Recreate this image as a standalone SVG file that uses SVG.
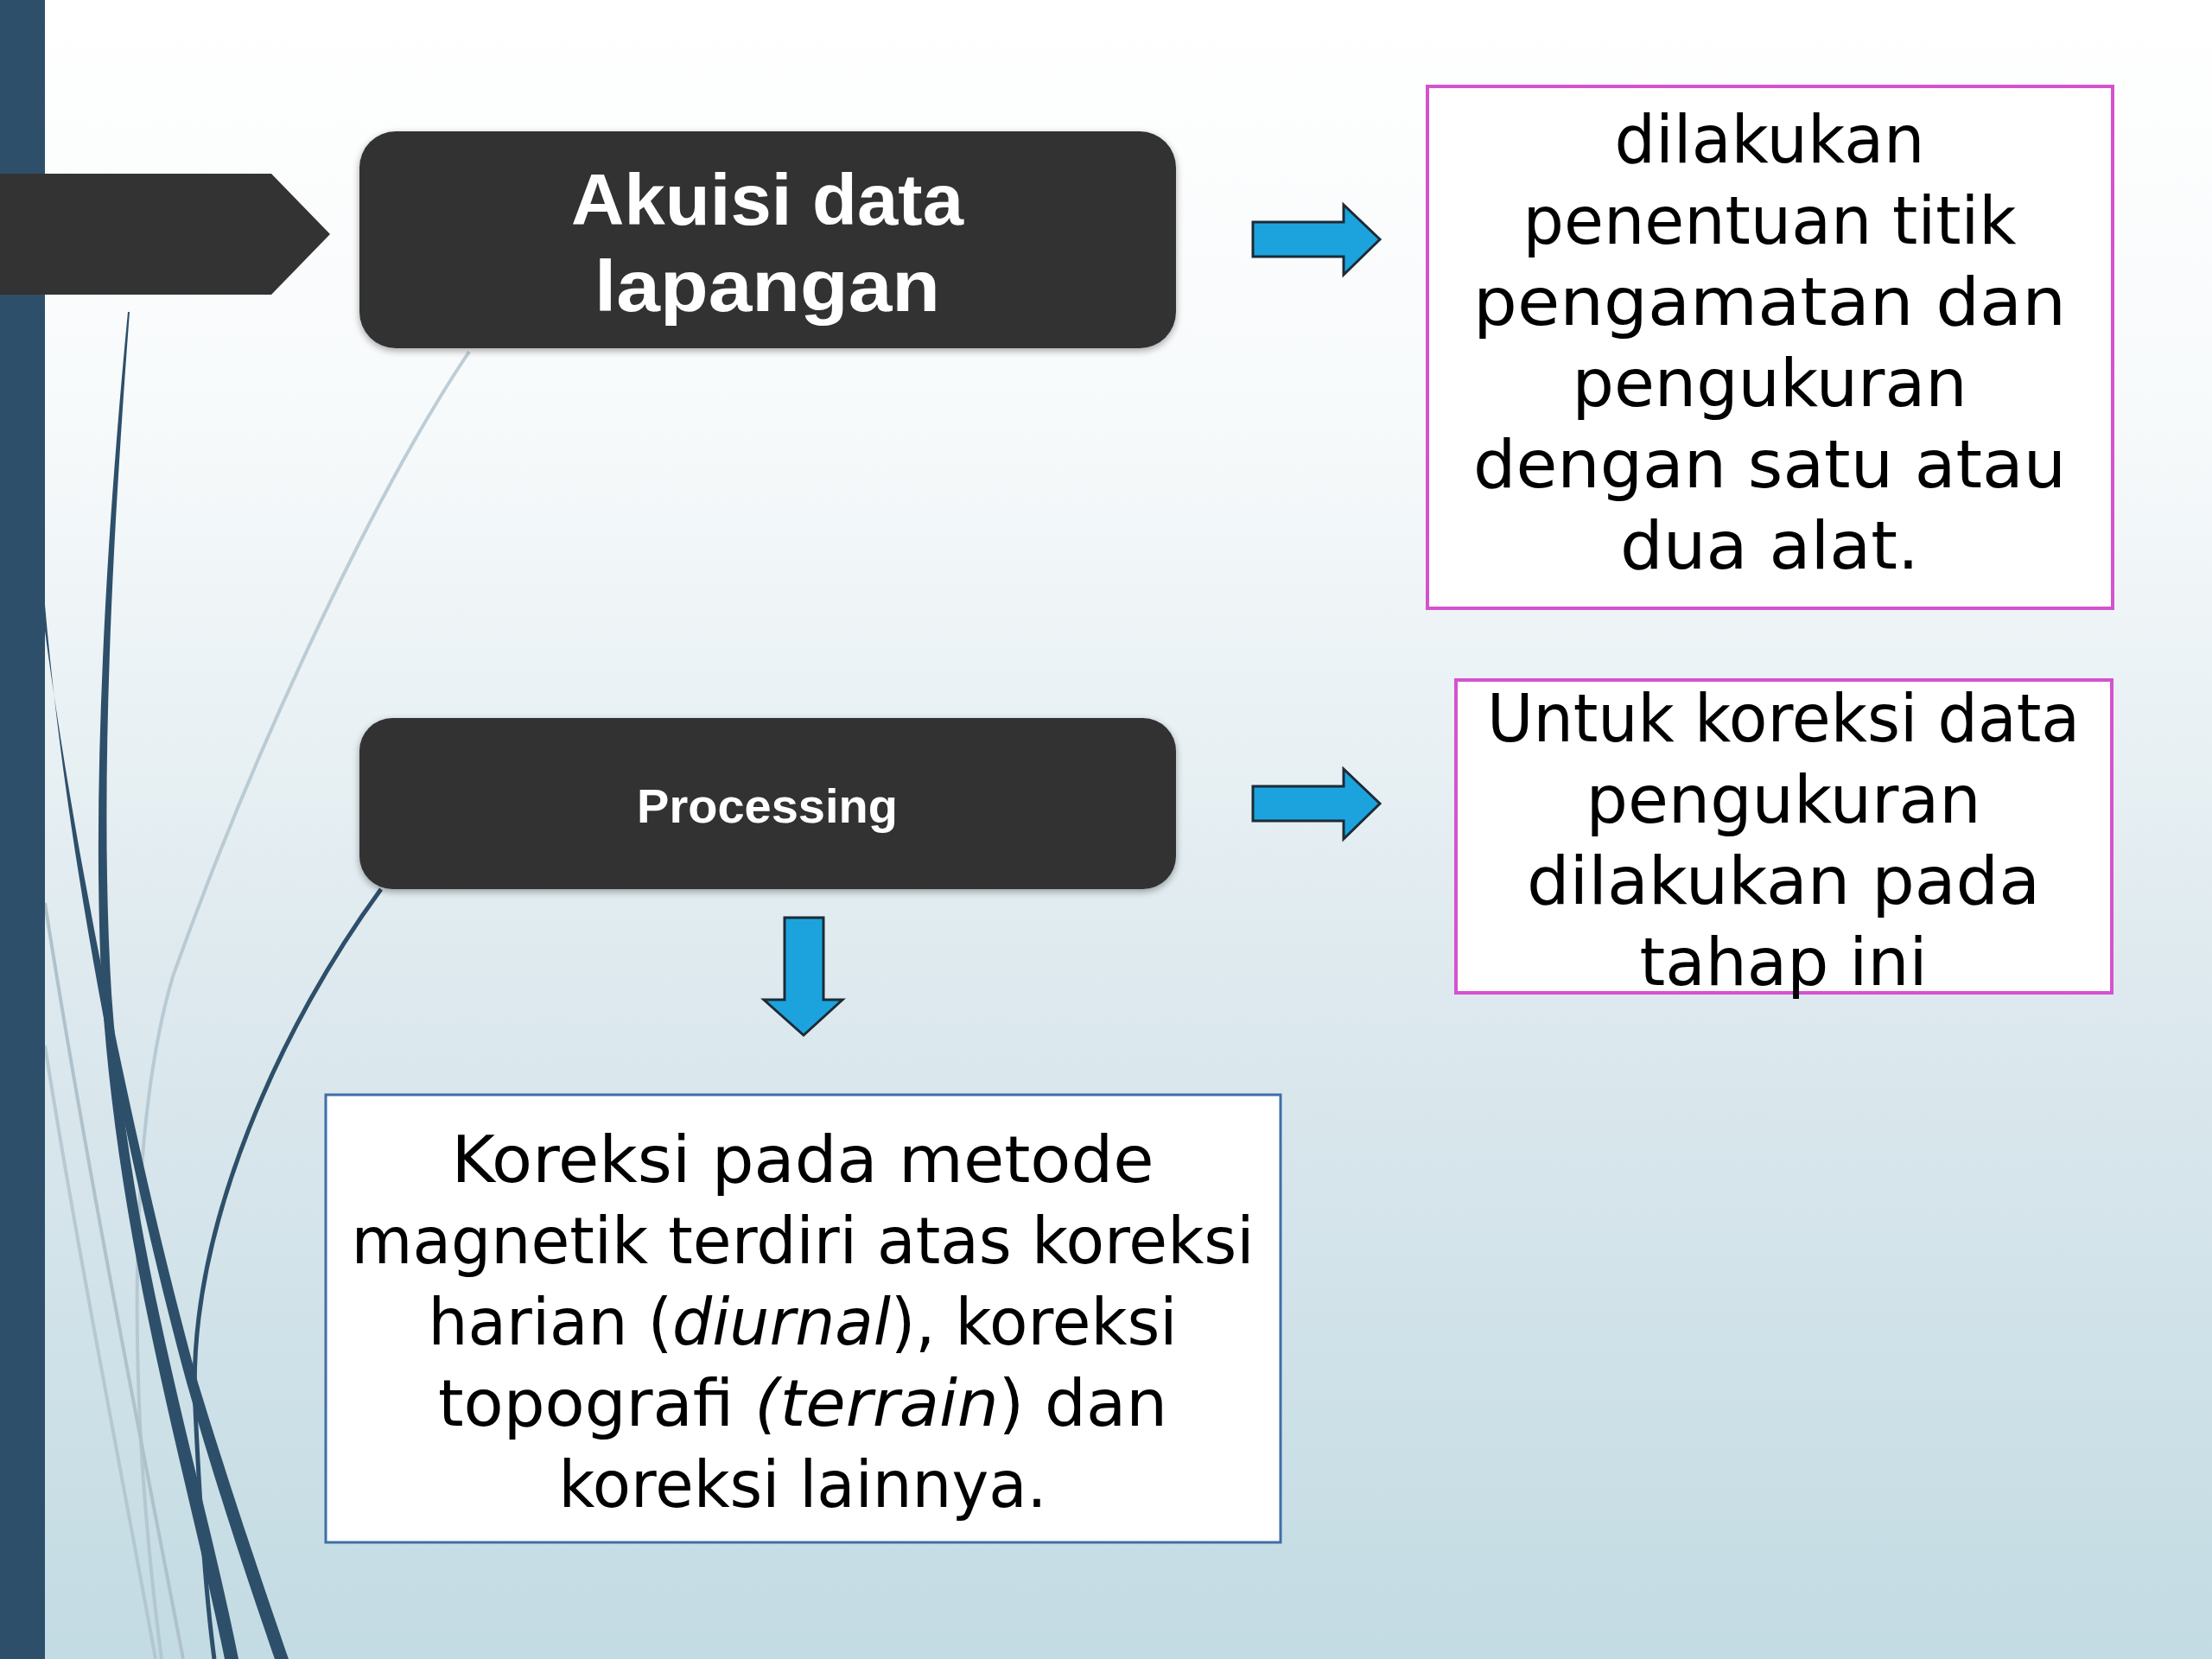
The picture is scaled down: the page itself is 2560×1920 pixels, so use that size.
<svg xmlns="http://www.w3.org/2000/svg" width="2560" height="1920" viewBox="0 0 2560 1920">
  <defs>
    <linearGradient id="bg" x1="0" y1="0" x2="0" y2="1">
      <stop offset="0" stop-color="#FFFFFF"/>
      <stop offset="0.25" stop-color="#F7FAFB"/>
      <stop offset="0.6" stop-color="#DDE9EE"/>
      <stop offset="1" stop-color="#C3DBE3"/>
    </linearGradient>
    <filter id="sh" x="-5%" y="-10%" width="110%" height="125%">
      <feGaussianBlur in="SourceAlpha" stdDeviation="4"/>
      <feOffset dx="0" dy="3" result="b"/>
      <feComponentTransfer><feFuncA type="linear" slope="0.35"/></feComponentTransfer>
      <feMerge><feMergeNode/><feMergeNode in="SourceGraphic"/></feMerge>
    </filter>
  </defs>
  <style>
    .dark { fill: #333333; }
    .title { font-family: "Liberation Sans", Arial, sans-serif; font-weight: bold; fill: #FFFFFF; text-anchor: middle; }
    .body { font-family: "DejaVu Sans", "Liberation Sans", sans-serif; font-size: 76px; fill: #000000; text-anchor: middle; }
    .small { font-size: 74px; }
    .pink { fill: #FFFFFF; stroke: #D552CF; stroke-width: 4; }
    .blue { fill: #FFFFFF; stroke: #3F6EA8; stroke-width: 3; }
    .arrow { fill: #1CA3DE; stroke: #1C2B36; stroke-width: 3; stroke-linejoin: miter; }
    .gray { fill: none; stroke: #AFC2CC; stroke-width: 4; }
    .navy { fill: #2D4F6A; }
  </style>

  <!-- background -->
  <rect x="0" y="0" width="2560" height="1920" fill="url(#bg)"/>

  <!-- decorative curves -->
  <g id="decor">
    <path class="gray" d="M543,407 C440,560 300,850 200,1130 C150,1300 145,1600 187,1920" stroke-width="2.5" opacity="0.8"/>
    <path class="gray" d="M52,1045 C100,1350 160,1650 212,1920"/>
    <path class="gray" d="M52,1210 C90,1450 140,1700 180,1920" opacity="0.8"/>
    <path class="navy" d="M148,361 C125,600 105,900 118,1150 C138,1450 215,1700 260,1920 L276,1920 C232,1700 150,1450 129,1150 C114,900 132,600 150,361 Z"/>
    <path class="navy" d="M52,700 C78,1000 148,1350 216,1600 C256,1740 294,1850 318,1920 L334,1920 C310,1850 272,1740 229,1600 C160,1350 88,1000 52,730 Z"/>
    <path d="M441,1029 C330,1180 215,1420 226,1630 C232,1760 240,1860 248,1920" fill="none" stroke="#2D4F6A" stroke-width="5"/>
    <rect class="navy" x="0" y="0" width="52" height="1920"/>
  </g>

  <!-- pentagon pointer -->
  <g id="pointer">
    <path class="dark" d="M0,201 H314 L382,271 L314,341 H0 Z"/>
  </g>

  <!-- nodes -->
  <g id="node-akuisi">
    <rect class="dark" x="416" y="152" width="945" height="251" rx="42" ry="42" filter="url(#sh)"/>
    <text class="title" x="888" y="260" font-size="84" textLength="454" lengthAdjust="spacingAndGlyphs">Akuisi data</text>
    <text class="title" x="888" y="360" font-size="84" textLength="400" lengthAdjust="spacingAndGlyphs">lapangan</text>
  </g>

  <g id="node-processing">
    <rect class="dark" x="416" y="831" width="945" height="198" rx="38" ry="38" filter="url(#sh)"/>
    <text class="title" x="888" y="952" font-size="56">Processing</text>
  </g>

  <g id="node-desc1">
    <rect class="pink" x="1652" y="100" width="793" height="604"/>
    <text class="body" x="2048" y="188" textLength="359" lengthAdjust="spacingAndGlyphs">dilakukan</text>
    <text class="body" x="2048" y="282" textLength="571" lengthAdjust="spacingAndGlyphs">penentuan titik</text>
    <text class="body" x="2048" y="376" textLength="686" lengthAdjust="spacingAndGlyphs">pengamatan dan</text>
    <text class="body" x="2048" y="470" textLength="457" lengthAdjust="spacingAndGlyphs">pengukuran</text>
    <text class="body" x="2048" y="564" textLength="686" lengthAdjust="spacingAndGlyphs">dengan satu atau</text>
    <text class="body" x="2048" y="658" textLength="346" lengthAdjust="spacingAndGlyphs">dua alat.</text>
  </g>

  <g id="node-desc2">
    <rect class="pink" x="1685" y="787" width="759" height="362"/>
    <text class="body" x="2064" y="858" textLength="686" lengthAdjust="spacingAndGlyphs">Untuk koreksi data</text>
    <text class="body" x="2064" y="952" textLength="457" lengthAdjust="spacingAndGlyphs">pengukuran</text>
    <text class="body" x="2064" y="1046" textLength="594" lengthAdjust="spacingAndGlyphs">dilakukan pada</text>
    <text class="body" x="2064" y="1140" textLength="333" lengthAdjust="spacingAndGlyphs">tahap ini</text>
  </g>

  <g id="node-koreksi">
    <rect class="blue" x="377" y="1267" width="1105" height="518"/>
    <text class="body small" x="929" y="1368" textLength="813" lengthAdjust="spacingAndGlyphs">Koreksi pada metode</text>
    <text class="body small" x="929" y="1462" textLength="1045" lengthAdjust="spacingAndGlyphs">magnetik terdiri atas koreksi</text>
    <text class="body small" x="929" y="1556" textLength="867" lengthAdjust="spacingAndGlyphs">harian (<tspan font-style="italic">diurnal</tspan>), koreksi</text>
    <text class="body small" x="929" y="1650" textLength="844" lengthAdjust="spacingAndGlyphs">topografi <tspan font-style="italic">(terrain</tspan>) dan</text>
    <text class="body small" x="929" y="1744" textLength="565" lengthAdjust="spacingAndGlyphs">koreksi lainnya.</text>
  </g>

  <!-- connectors -->
  <g id="connectors">
    <path class="arrow" d="M1450,257 H1555 V237 L1597,277 L1555,318 V297 H1450 Z"/>
    <path class="arrow" d="M1450,910 H1555 V890 L1597,930 L1555,971 V950 H1450 Z"/>
    <path class="arrow" d="M908,1062 H953 V1157 H975 L930,1198 L884,1157 H908 Z"/>
  </g>
</svg>
